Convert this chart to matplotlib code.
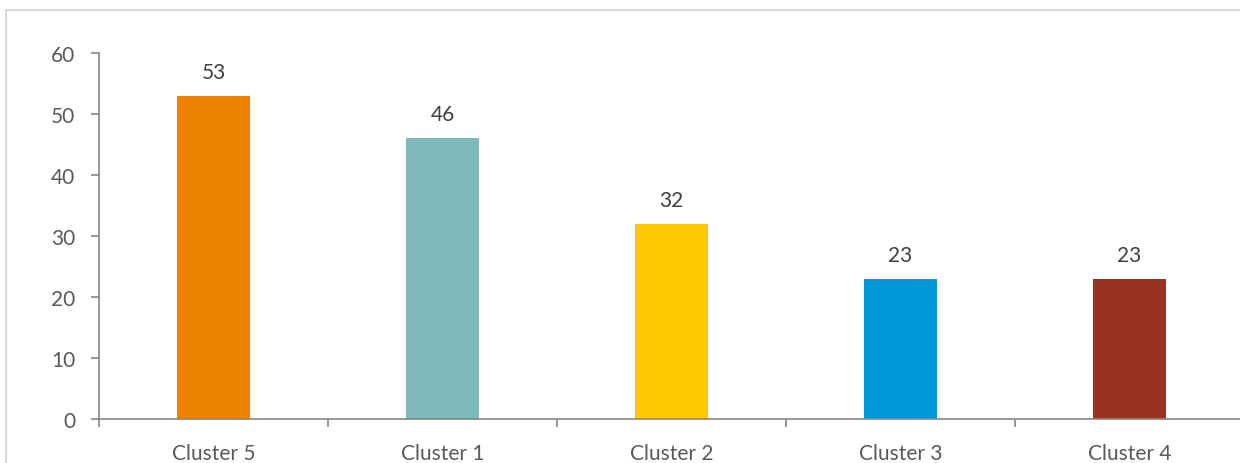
import matplotlib.pyplot as plt
import matplotlib.patches as mpatches
import numpy as np

categories = ['Cluster 5', 'Cluster 1', 'Cluster 2', 'Cluster 3', 'Cluster 4']
values = [53, 46, 32, 23, 23]
colors = ['#E98300', '#7FBABA', '#FFC800', '#0098DB', '#983222']

plt.rcParams['font.family'] = ['Lato', 'DejaVu Sans']

fig = plt.figure(figsize=(12.4, 4.64), dpi=100)
ax = fig.add_axes([99/1240, 1-420/464, (1244-99)/1240, (420-54)/464])

# outer chart frame
frame = mpatches.Rectangle((5.5/1240, -0.05), 1.1, 1-10.5/464+0.05, transform=fig.transFigure,
                           fill=False, edgecolor='#d9d9d9', linewidth=1.5)
fig.patches.append(frame)

x = np.arange(len(categories))
bars = ax.bar(x, values, width=0.315, color=colors)
for xi, v in zip(x, values):
    ax.text(xi, v + 2.3, str(v), ha='center', va='bottom', fontsize=15, color='#404040')

ax.set_xlim(-0.5, len(categories) - 0.5)
ax.set_ylim(0, 60)
ax.set_yticks(range(0, 61, 10))
ax.set_xticks(x)
ax.set_xticklabels(categories)
ax.set_xticks(np.arange(-0.5, len(categories), 1), minor=True)

for s in ['top', 'right']:
    ax.spines[s].set_visible(False)
for s in ['left', 'bottom']:
    ax.spines[s].set_color('#868686')
    ax.spines[s].set_linewidth(1.2)

ax.tick_params(axis='y', length=6, width=1.2, color='#868686', labelsize=15, labelcolor='#595959', pad=11)
ax.tick_params(axis='x', which='major', length=0, labelsize=15, labelcolor='#595959', pad=17)
ax.tick_params(axis='x', which='minor', length=6, width=1.2, color='#868686')

fig.savefig('out.png', dpi=100)
